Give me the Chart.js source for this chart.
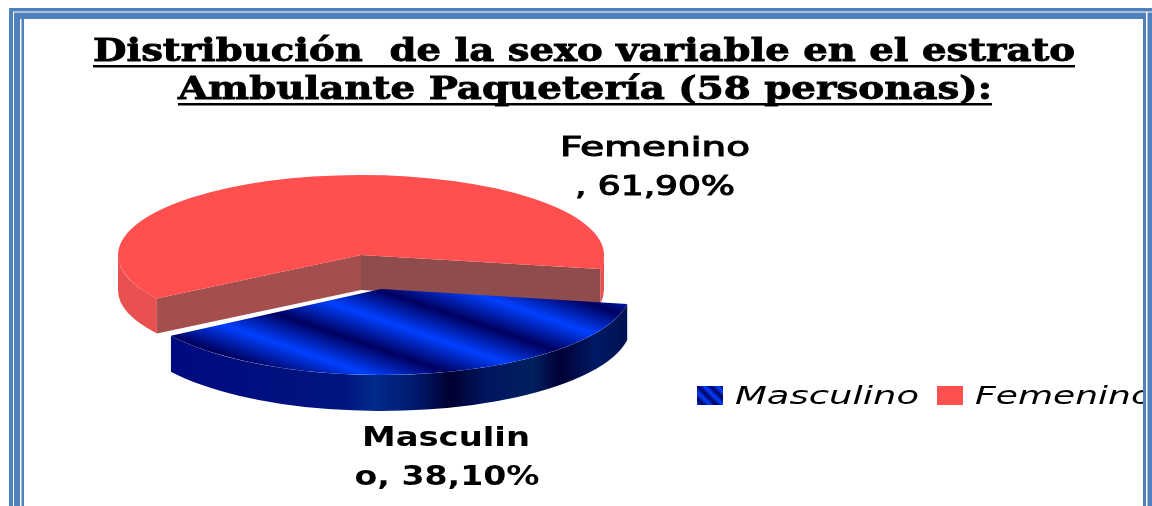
<!DOCTYPE html>
<html><head><meta charset="utf-8">
<style>html,body{margin:0;padding:0;background:#fff;overflow:hidden}canvas{display:block}</style>
<script src="https://cdn.jsdelivr.net/npm/chart.js@4"></script>
</head><body><canvas id="c" width="1152" height="506"></canvas>
<script>
const categories = ["Masculino", "Femenino"];
const percentValues = [38.1, 61.9];
const titleLines = ["Distribución  de la sexo variable en el estrato", "Ambulante Paquetería (58 personas):"];
const sliceLabelLines = [["Masculin", "o, 38,10%"], ["Femenino", ", 61,90%"]];

const FRAME = "#4f81bd", RED = "#ff4f4f";
const canvas = document.getElementById("c");
const g = canvas.getContext("2d");

function blueStripes(ctx, x0, y0, x1, y1, cycles) {
  const gr = ctx.createLinearGradient(x0, y0, x1, y1);
  for (let i = 0; i <= cycles * 2; i++) gr.addColorStop(i / (cycles * 2), i % 2 ? "#00005f" : "#0040ff");
  return gr;
}
const blueTop = blueStripes(g, 264, 579, 681, 162, 5);

// slice projection styling (flatten & explode), same order as categories
const look = [
  {sx: 250/243, sy: 86/243, dx: 20, dy: 34, depth: 36},
  {sx: 1, sy: 80/243, dx: 0, dy: 0, depth: 35}
];

function blueWall(ctx) {
  const gr = ctx.createLinearGradient(173, 0, 628, 0);
  [[0,"#000a80"],[.38,"#00157f"],[.44,"#002a8c"],[.53,"#001a70"],[.61,"#000030"],[.69,"#001560"],
   [.79,"#00205f"],[.85,"#000035"],[.93,"#001a66"],[1,"#00104f"]].forEach(s => gr.addColorStop(s[0], s[1]));
  return gr;
}

function drawSlice3D(ctx, arc, lk, i) {
  const cx = arc.x + lk.dx, cy = arc.y + lk.dy, R = arc.outerRadius;
  const P = a => [cx + Math.cos(a) * R * lk.sx, cy + Math.sin(a) * R * lk.sy];
  const s = arc.startAngle, e = arc.endAngle, T = Math.PI * 2;
  // outer wall: front-facing parts only
  [[0, Math.PI], [T, T + Math.PI]].forEach(r => {
    const a0 = Math.max(s, r[0]), a1 = Math.min(e, r[1]);
    if (a1 <= a0) return;
    ctx.beginPath();
    ctx.ellipse(cx, cy, R * lk.sx, R * lk.sy, 0, a0, a1);
    ctx.ellipse(cx, cy + lk.depth, R * lk.sx, R * lk.sy, 0, a1, a0, true);
    ctx.closePath();
    ctx.fillStyle = i === 0 ? blueWall(ctx) : "#e8514f";
    ctx.fill();
  });
  // cut faces
  const quad = (a, col) => {
    const p = P(a);
    ctx.beginPath();
    ctx.moveTo(cx, cy); ctx.lineTo(p[0], p[1]); ctx.lineTo(p[0], p[1] + lk.depth); ctx.lineTo(cx, cy + lk.depth);
    ctx.closePath(); ctx.fillStyle = col; ctx.fill();
  };
  if (Math.cos(s) < 0) quad(s, "#a54e4e");
  if (Math.cos(e) > 0) quad(e, "#8f4c4c");
  // top face, drawn by the library's arc element
  ctx.save();
  ctx.translate(cx, cy);
  ctx.scale(lk.sx, lk.sy);
  ctx.translate(-arc.x, -arc.y);
  arc.draw(ctx);
  ctx.restore();
}

function fitText(ctx, text, x, y, font, width, align, stroke) {
  ctx.save();
  ctx.font = font; ctx.fillStyle = "#000"; ctx.textBaseline = "middle"; ctx.textAlign = align || "center";
  const m = ctx.measureText(text).width;
  ctx.translate(x, y); ctx.scale(width / m, 1);
  ctx.fillText(text, 0, 0);
  if (stroke) { ctx.strokeStyle = "#000"; ctx.lineWidth = stroke; ctx.strokeText(text, 0, 0); }
  ctx.restore();
}

const pie3d = {
  id: "pie3d",
  beforeDatasetDraw(chart, args) {
    const ctx = chart.ctx;
    const arcs = chart.getDatasetMeta(args.index).data;
    [1, 0].forEach(i => drawSlice3D(ctx, arcs[i], look[i], i));
    return false;
  },
  afterDraw(chart) {
    const ctx = chart.ctx;
    // title
    const serif = 'bold 32px "DejaVu Serif"';
    fitText(ctx, titleLines[0], 584, 53, serif, 982, "center", 0.9);
    fitText(ctx, titleLines[1], 585, 91, serif, 814, "center", 0.9);
    ctx.fillStyle = "#000";
    ctx.fillRect(93, 65, 982, 2.5);
    ctx.fillRect(178, 103, 814, 2.5);
    // slice labels
    const sans = 'bold 27px "DejaVu Sans"';
    const reg = '27px "DejaVu Sans"';
    fitText(ctx, sliceLabelLines[1][0], 655, 149, reg, 190, "center", 1.1);
    fitText(ctx, sliceLabelLines[1][1], 655, 188, reg, 160, "center", 1.1);
    fitText(ctx, sliceLabelLines[0][0], 446, 439, sans, 168);
    fitText(ctx, sliceLabelLines[0][1], 447, 478, sans, 185);
    // legend
    ctx.fillStyle = blueStripes(ctx, 697, 405, 723, 379, 4);
    ctx.fillRect(697, 386, 26, 19);
    ctx.fillStyle = RED;
    ctx.fillRect(937, 386, 26, 19);
    const leg = 'italic 25px "DejaVu Sans"';
    fitText(ctx, categories[0], 735, 397, leg, 184, "left");
    fitText(ctx, categories[1], 975, 397, leg, 178, "left");
    // frame
    ctx.fillStyle = FRAME;
    ctx.fillRect(9, 8, 1143, 11);
    ctx.fillRect(9, 8, 15, 498);
    ctx.fillRect(1143, 8, 9, 498);
    ctx.fillStyle = "#fff";
    ctx.fillRect(13, 11.5, 1139, 1);
    ctx.fillRect(13, 12, 1, 494);
    ctx.fillRect(20, 19, 1.5, 487);
    ctx.fillRect(1146, 12, 1.5, 494);
    ctx.fillRect(24, 19, 1119, 1);
  }
};

new Chart(canvas, {
  type: "pie",
  data: {
    labels: categories,
    datasets: [{ data: percentValues, backgroundColor: [blueTop, RED], borderWidth: 0 }]
  },
  options: {
    responsive: false,
    animation: false,
    rotation: 100,
    layout: { padding: { left: 118, right: 548, top: 12, bottom: 8 } },
    plugins: { legend: { display: false }, title: { display: false }, tooltip: { enabled: false } }
  },
  plugins: [pie3d]
});
</script></body></html>
